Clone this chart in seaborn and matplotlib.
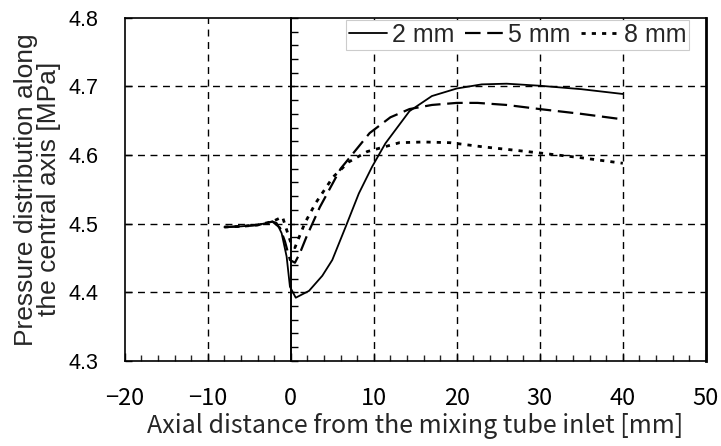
import matplotlib
matplotlib.use("Agg")
import matplotlib.pyplot as plt
import seaborn as sns
import numpy as np
from matplotlib.ticker import MultipleLocator

# ---- data ----
x_2mm = [-8, -6, -4, -2.2, -1.7, -1.1, -0.5, -0.1, 0.6, 2.2, 3.8, 5.0, 6.6, 8.2, 9.8, 11.4, 14.3, 17, 20, 23, 26, 30, 35, 40]
y_2mm = [4.495, 4.496, 4.498, 4.503, 4.501, 4.486, 4.452, 4.408, 4.392, 4.402, 4.424, 4.447, 4.495, 4.544, 4.583, 4.617, 4.664, 4.686, 4.697, 4.703, 4.704, 4.701, 4.696, 4.689]

x_5mm = [-8, -6, -4, -2.2, -1.3, -0.7, -0.1, 0.5, 1.1, 1.9, 3.5, 6, 9.5, 12, 14.3, 17, 20, 22.5, 26, 30, 35, 40]
y_5mm = [4.495, 4.496, 4.498, 4.503, 4.494, 4.474, 4.447, 4.443, 4.457, 4.481, 4.524, 4.580, 4.632, 4.655, 4.667, 4.673, 4.676, 4.676, 4.673, 4.667, 4.660, 4.652]

x_8mm = [-8, -6, -4, -2.2, -1.0, -0.5, 0.1, 0.5, 1.7, 3, 5.1, 7, 9.2, 13.1, 16, 19.2, 23.1, 27, 30, 35, 40]
y_8mm = [4.495, 4.496, 4.498, 4.503, 4.510, 4.491, 4.469, 4.465, 4.501, 4.530, 4.568, 4.590, 4.605, 4.618, 4.619, 4.618, 4.612, 4.607, 4.603, 4.596, 4.588]

labels = ["2 mm", "5 mm", "8 mm"]
x_ticks = [-20, -10, 0, 10, 20, 30, 40, 50]
y_ticks = [4.3, 4.4, 4.5, 4.6, 4.7, 4.8]

sns.set_theme(style="white")
plt.rcParams["font.family"] = ["Liberation Sans", "DejaVu Sans"]
gothic = ["Noto Sans CJK JP", "DejaVu Sans"]

fig = plt.figure(figsize=(7.21, 4.46), dpi=100)
ax = fig.add_axes([0.173, 0.191, 0.806, 0.769])

series = [(x_2mm, y_2mm, labels[0], dict(linestyle="-", linewidth=1.3)),
          (x_5mm, y_5mm, labels[1], dict(linestyle=(0, (7, 3)), linewidth=1.6)),
          (x_8mm, y_8mm, labels[2], dict(linestyle=(0, (1.5, 2.2)), linewidth=2.0))]
for xs, ys, lab, st in series:
    sns.lineplot(x=xs, y=ys, ax=ax, color="black", label=lab, sort=False,
                 estimator=None, **st)

ax.set_xlim(-20, 50)
ax.set_ylim(4.3, 4.8)
ax.set_xticks(x_ticks)
ax.set_yticks(y_ticks)
ax.set_yticklabels([f"{v:.1f}" for v in y_ticks])
ax.set_xticklabels([f"{v}".replace("-", "\u2212") for v in x_ticks], family=gothic)
ax.xaxis.set_minor_locator(MultipleLocator(2))

for v in x_ticks[1:-1]:
    if v != 0:
        ax.axvline(v, color="black", linewidth=1.0, linestyle=(0, (5, 4)), zorder=0.5)
for v in y_ticks[1:-1]:
    ax.axhline(v, color="black", linewidth=1.0, linestyle=(0, (5, 4)), zorder=0.5)

ax.tick_params(axis="x", which="major", direction="in", length=6, width=1,
               labelsize=17, pad=19, bottom=True, top=False, colors="black")
ax.tick_params(axis="x", which="minor", direction="in", length=4, width=1, bottom=True, top=False)
ax.tick_params(axis="y", which="major", direction="in", length=5, width=1,
               labelsize=15.5, pad=19, left=True, right=False, colors="black")

for s in ax.spines.values():
    s.set_color("black")
    s.set_linewidth(1.2)
ax.spines["right"].set_linewidth(2.0)

# axis line at x = 0 with ticks
sec = ax.secondary_yaxis(0, transform=ax.transData)
sec.spines["left"].set_linewidth(1.4)
sec.spines["left"].set_color("black")
sec.set_yticks(y_ticks)
sec.yaxis.set_minor_locator(MultipleLocator(0.02))
sec.tick_params(axis="y", which="both", direction="in", length=5, width=1, labelleft=False, colors="black")

ax.set_xlabel("Axial distance from the mixing tube inlet [mm]", fontsize=18,
              family=gothic, labelpad=2)
ax.set_ylabel("Pressure distribution along\nthe central axis [MPa]", fontsize=19, labelpad=5,
              linespacing=0.98)

leg = ax.legend(loc="upper right", bbox_to_anchor=(0.975, 1.0), ncol=3, fontsize=18,
                frameon=True, fancybox=False, framealpha=1, edgecolor="#cccccc",
                handlelength=1.5, handletextpad=0.2, columnspacing=0.45,
                borderpad=0.12, borderaxespad=0.08)
leg.get_frame().set_linewidth(0.8)

fig.savefig("out.png", dpi=100)
